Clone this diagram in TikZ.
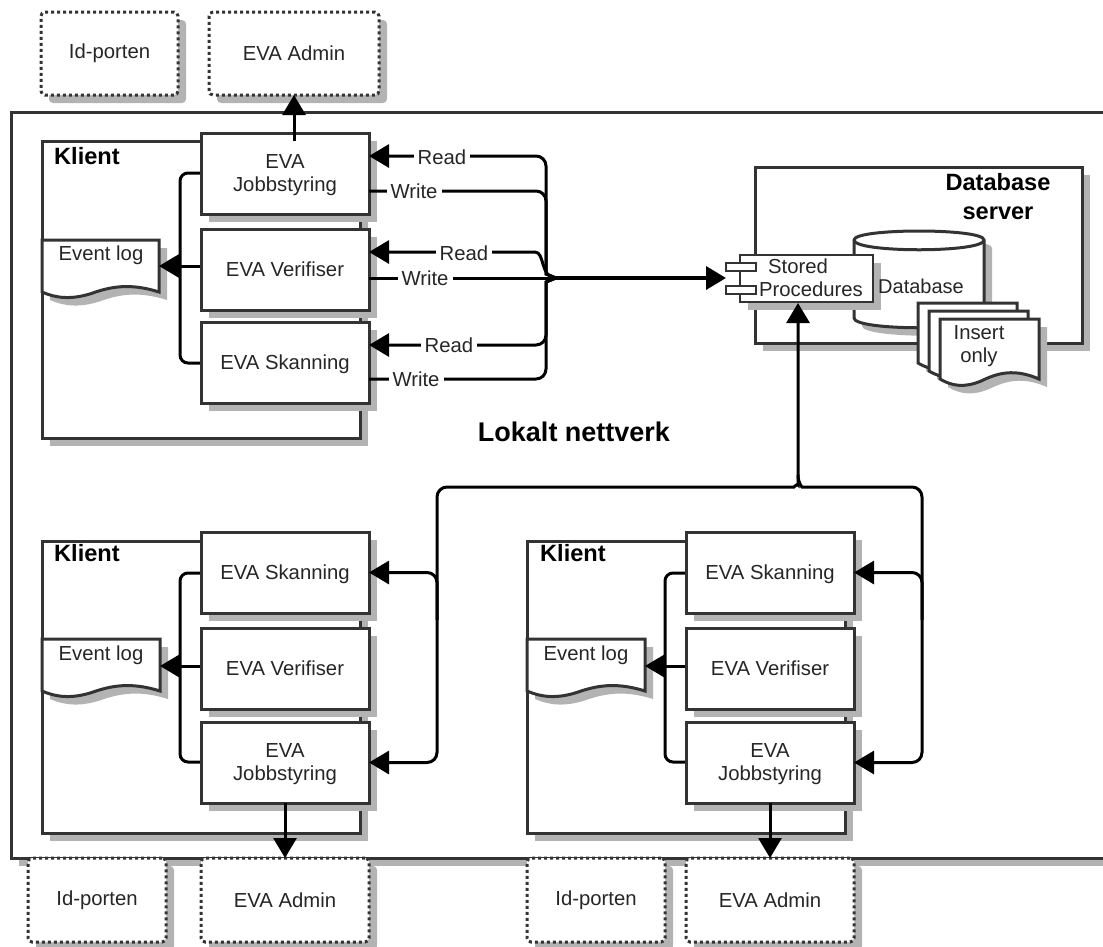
\documentclass[tikz,border=0pt]{standalone}
\usepackage{fontspec}
\setmainfont{Liberation Sans}
\usetikzlibrary{arrows.meta,shadows,calc}
\definecolor{edgec}{HTML}{333333}
\definecolor{shadec}{HTML}{B3B3B3}
\definecolor{textc}{HTML}{262626}
\tikzset{
  bigtip/.tip={Triangle[length=20pt,width=23pt]},
  sh/.style={drop shadow={shadow xshift=8pt,shadow yshift=-8pt,fill=shadec,draw=none,opacity=1}},
  boxbase/.style={rectangle,draw=edgec,fill=white,line width=3pt,inner sep=0pt,outer sep=0pt,anchor=north west,text=textc,align=center,
    font=\fontsize{20.3}{23}\selectfont},
  svc/.style={boxbase,sh,minimum width=168pt,minimum height=81pt,text depth=0pt},
  client/.style={boxbase,sh,minimum width=318pt},
  ext/.style={boxbase,sh,dash pattern=on 3pt off 3pt,rounded corners=4pt},
  conn/.style={draw=black,line width=3pt,rounded corners=10pt},
  bold/.style={text=black,inner sep=0pt,font=\bfseries\fontsize{23.6}{29}\selectfont,align=center},
  txt/.style={text=textc,inner sep=0pt,font=\fontsize{20.3}{23}\selectfont,align=center},
  lbl/.style={text=textc,fill=white,inner xsep=4pt,inner ysep=1pt,font=\fontsize{20.3}{23}\selectfont},
  shapeline/.style={draw=edgec,fill=white,line width=3pt,line join=miter},
  shadefill/.style={fill=shadec,draw=none},
}
\newcommand{\wavepath}{(0,0) -- (1,0) -- (1,1) .. controls (.75,.82) and (.58,.9) .. (.42,1.03) .. controls (.25,1.15) and (.12,1.12) .. (0,1) -- cycle}
\newcommand{\wavedoc}[4]{%
  \fill[shadefill,shift={(#1+8,#2+8)},xscale=#3,yscale=#4] \wavepath;
  \path[shapeline,shift={(#1,#2)},xscale=#3,yscale=#4] \wavepath;
}
\begin{document}
\begin{tikzpicture}[x=1pt,y=-1pt]
\useasboundingbox (0,0) rectangle (1103,946);
\fill[white] (0,0) rectangle (1103,946);
% local network
\fill[shadefill] (19,120) rectangle (1103,866);
\fill[white] (11,112) rectangle (1103,858);
\draw[draw=edgec,line width=3pt] (1103,112) -- (11,112) -- (11,858) -- (1103,858);
\node[bold,font=\bfseries\fontsize{27}{30}\selectfont] (net) at (574,432) {Lokalt nettverk};
% database server
\node[boxbase,sh,minimum width=327pt,minimum height=176pt] (dbsrv) at (755,167) {};
\node[bold] (dbsrvt) at (998,197) {Database\\server};
\fill[shadefill,shift={(8,8)}] (854,240) .. controls (854,228) and (984,228) .. (984,240) -- (984,318) .. controls (984,331) and (854,331) .. (854,318) -- cycle;
\path[shapeline] (854,240) .. controls (854,228) and (984,228) .. (984,240) -- (984,318) .. controls (984,331) and (854,331) .. (854,318) -- cycle;
\draw[draw=edgec,line width=3pt] (854,240) .. controls (854,253) and (984,253) .. (984,240);
\wavedoc{918}{303}{99}{60}
\wavedoc{929}{311}{99}{60}
\wavedoc{940}{319}{99}{60}
\node[txt] (ins) at (979,346) {Insert\\only};
% stored procedures
\node[boxbase,sh,minimum width=133pt,minimum height=47pt,line width=2.4pt] (sp) at (740,255) {};
\node[boxbase,minimum width=30pt,minimum height=8pt,line width=2pt] (sp1) at (726,263) {};
\node[boxbase,minimum width=30pt,minimum height=8pt,line width=2pt] (sp2) at (726,286) {};
\node[txt,fill=none] (spt) at (811,278) {Stored\hspace*{26pt}\\Procedures};
\node[txt,font=\fontsize{20}{23}\selectfont] (dbt) at (921,286) {Database};
\coordinate (spl) at (sp1.west |- 0,278);
\coordinate (spb) at (798,303);
\coordinate (hub) at (556,278);
% client 1
\node[client,minimum height=297pt] (k1) at (42,141) {};
\node[bold,anchor=west] (k1t) at (54,156) {Klient};
\wavedoc{42}{240}{117}{52}
\node[txt] (log1) at (101,255) {Event log};
\coordinate (log1e) at (159,266);
\draw[conn,rounded corners=8pt] (201,173) -- (180,173) -- (180,363) -- (201,363);
\draw[conn,-{bigtip}] (201,266) -- (log1e);
\node[svc] (j1) at (201,133) {EVA\\Jobbstyring};
\node[svc] (v1) at (201,229) {EVA Verifiser};
\node[svc] (s1) at (201,322) {EVA Skanning};
% connectors client 1 to database
\draw[conn,{bigtip}-] (369,156) -- (546,156) -- (546,264) .. controls (546,274) .. (hub);
\draw[conn] (369,191) -- (546,191) -- (546,264) .. controls (546,274) .. (hub);
\draw[conn,{bigtip}-] (369,252) -- (525,252) .. controls (545,252) and (540,278) .. (hub);
\draw[conn] (369,278) -- (hub);
\draw[conn,{bigtip}-] (369,345) -- (546,345) -- (546,292) .. controls (546,282) .. (hub);
\draw[conn] (369,379) -- (546,379) -- (546,292) .. controls (546,282) .. (hub);
\draw[conn,line width=3.6pt,-{bigtip}] (hub) -- (spl);
\node[lbl] (r1) at (442,157) {Read};
\node[lbl] (w1) at (414,191) {Write};
\node[lbl] (r2) at (464,253) {Read};
\node[lbl] (w2) at (425,278) {Write};
\node[lbl] (r3) at (449,345) {Read};
\node[lbl] (w3) at (416,379) {Write};
% client 2
\node[client,minimum height=292pt] (k2) at (42,541) {};
\node[bold,anchor=west] (k2t) at (54,553) {Klient};
\wavedoc{42}{639}{118}{52}
\node[txt] (log2) at (101,655) {Event log};
\coordinate (log2e) at (160,666);
\draw[conn,rounded corners=8pt] (201,573) -- (180,573) -- (180,762) -- (201,762);
\draw[conn,-{bigtip}] (201,666) -- (log2e);
\node[svc] (s2) at (201,532) {EVA Skanning};
\node[svc] (v2) at (201,628) {EVA Verifiser};
\node[svc] (j2) at (201,722) {EVA\\Jobbstyring};
% client 3
\node[client,minimum height=292pt] (k3) at (527,541) {};
\node[bold,anchor=west] (k3t) at (540,553) {Klient};
\wavedoc{527}{639}{118}{52}
\node[txt] (log3) at (586,655) {Event log};
\coordinate (log3e) at (645,666);
\draw[conn,rounded corners=8pt] (686,573) -- (665,573) -- (665,762) -- (686,762);
\draw[conn,-{bigtip}] (686,666) -- (log3e);
\node[svc] (s3) at (686,532) {EVA Skanning};
\node[svc] (v3) at (686,628) {EVA Verifiser};
\node[svc] (j3) at (686,722) {EVA\\Jobbstyring};
% bus to stored procedures
\draw[conn,{bigtip}-{bigtip}] (s2.east) -- ++(68,0) -- ($(j2.east)+(68,0)$) -- (j2.east);
\draw[conn,{bigtip}-{bigtip}] (s3.east) -- ++(68,0) -- ($(j3.east)+(68,0)$) -- (j3.east);
\draw[conn,-{bigtip}] (437,620) -- (437,487) -- (784,487) .. controls (794,487) and (798,483) .. (798,475) -- (spb);
\draw[conn] (922,620) -- (922,487) -- (812,487) .. controls (802,487) and (798,483) .. (798,475);
% external systems
\node[ext,minimum width=137pt,minimum height=83pt] (id1) at (41,12) {Id-porten};
\node[ext,minimum width=170pt,minimum height=83pt] (ad1) at (209,12) {EVA Admin};
\node[ext,minimum width=138pt,minimum height=84pt] (id2) at (28,858) {Id-porten};
\node[ext,minimum width=168pt,minimum height=84pt] (ad2) at (201,858) {EVA Admin};
\node[ext,minimum width=138pt,minimum height=84pt] (id3) at (527,858) {Id-porten};
\node[ext,minimum width=168pt,minimum height=84pt] (ad3) at (686,858) {EVA Admin};
\draw[conn,-{bigtip}] (ad1.south |- k1.north) -- (ad1.south);
\draw[conn,-{bigtip}] (j2.south) -- (ad2.north);
\draw[conn,-{bigtip}] (j3.south) -- (ad3.north);
\end{tikzpicture}
\end{document}
